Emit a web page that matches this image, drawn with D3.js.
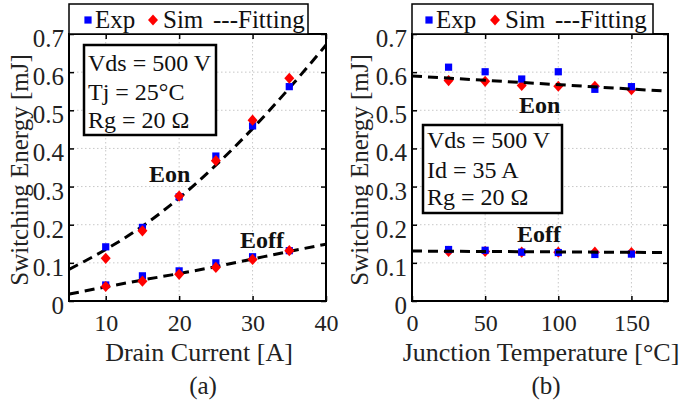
<!DOCTYPE html>
<html>
<head>
<meta charset="utf-8">
<script src="https://cdn.jsdelivr.net/npm/d3@7"></script>
<style>
  html, body { margin: 0; padding: 0; background: #fff; }
  svg text { font-family: "Liberation Serif", "Times New Roman", Times, serif; }
</style>
</head>
<body>
<svg id="chart" width="682" height="401"></svg>
<script>
// ---- Panel (a): switching energy vs drain current ----
const currentA = [10, 15, 20, 25, 30, 35];
const eonExpA  = [0.142, 0.193, 0.273, 0.380, 0.459, 0.562];
const eonSimA  = [0.112, 0.184, 0.275, 0.368, 0.474, 0.584];
const eoffExpA = [0.042, 0.066, 0.079, 0.100, 0.116, 0.132];
const eoffSimA = [0.038, 0.052, 0.070, 0.088, 0.109, 0.132];
const fitXA    = [5, 10, 15, 20, 25, 30, 35, 40];
const eonFitA  = [0.083, 0.135, 0.196, 0.270, 0.356, 0.452, 0.558, 0.671];
const eoffFitA = [0.018, 0.037, 0.055, 0.072, 0.090, 0.110, 0.130, 0.149];

// ---- Panel (b): switching energy vs junction temperature ----
const tempB    = [25, 50, 75, 100, 125, 150];
const eonExpB  = [0.613, 0.601, 0.582, 0.601, 0.555, 0.562];
const eonSimB  = [0.578, 0.576, 0.565, 0.563, 0.563, 0.554];
const eoffExpB = [0.135, 0.133, 0.128, 0.127, 0.122, 0.123];
const eoffSimB = [0.130, 0.130, 0.128, 0.128, 0.128, 0.127];
const fitXB    = [0, 175];
const eonFitB  = [0.590, 0.550];
const eoffFitB = [0.131, 0.127];

const yTicks  = [0, 0.1, 0.2, 0.3, 0.4, 0.5, 0.6, 0.7];
const xTicksA = [10, 20, 30, 40];
const xTicksB = [0, 50, 100, 150];

const SERIF = "'Liberation Serif', 'Times New Roman', Times, serif";
const svg = d3.select("#chart");

// square marker, and a diamond made from a rotated, slightly stretched square
const sq = d3.symbol().type(d3.symbolSquare).size(52);
const dm = d3.symbol().type(d3.symbolSquare).size(50);
const dmTransform = (px, py) => `translate(${px},${py}) scale(1,1.12) rotate(45)`;

function panel(cfg) {
  const x = d3.scaleLinear().domain(cfg.xDomain).range([cfg.left, cfg.right]);
  const y = d3.scaleLinear().domain([0, 0.7]).range([cfg.bottom, cfg.top]);
  const g = svg.append("g");

  // dotted grid
  g.append("g").selectAll("line").data(cfg.xTicks.filter(v => v > cfg.xDomain[0] && v < cfg.xDomain[1]))
    .join("line")
    .attr("x1", d => x(d)).attr("x2", d => x(d))
    .attr("y1", cfg.top).attr("y2", cfg.bottom)
    .attr("stroke", "#c8c8c8").attr("stroke-width", 1).attr("stroke-dasharray", "1.5,2.5");
  g.append("g").selectAll("line").data(yTicks.slice(1, -1))
    .join("line")
    .attr("x1", cfg.left).attr("x2", cfg.right)
    .attr("y1", d => y(d)).attr("y2", d => y(d))
    .attr("stroke", "#c8c8c8").attr("stroke-width", 1).attr("stroke-dasharray", "1.5,2.5");

  // axes with inward ticks, mirrored on all four sides
  const axL = d3.axisLeft(y).tickValues(yTicks).tickSizeInner(-5).tickSizeOuter(0).tickPadding(5)
    .tickFormat(d => d === 0 ? "0" : d3.format(".1f")(d));
  const axR = d3.axisRight(y).tickValues(yTicks).tickSizeInner(-5).tickSizeOuter(0).tickFormat("");
  const axB = d3.axisBottom(x).tickValues(cfg.xTicks).tickSizeInner(-5).tickSizeOuter(0).tickPadding(13)
    .tickFormat(d3.format("d"));
  const axT = d3.axisTop(x).tickValues(cfg.xTicks).tickSizeInner(-5).tickSizeOuter(0).tickFormat("");

  const styleAxis = sel => {
    sel.attr("font-family", SERIF);
    sel.select(".domain").remove();
    sel.selectAll(".tick line").attr("stroke", "#000").attr("stroke-width", 1.5);
    sel.selectAll(".tick text").attr("fill", "#222").style("font-size", "24px");
  };
  g.append("g").attr("transform", `translate(${cfg.left},0)`).call(axL).call(styleAxis)
    .selectAll(".tick text").attr("dy", "0.5em").style("font-size", "25px");
  g.append("g").attr("transform", `translate(${cfg.right},0)`).call(axR).call(styleAxis);
  g.append("g").attr("transform", `translate(0,${cfg.bottom})`).call(axB).call(styleAxis);
  g.append("g").attr("transform", `translate(0,${cfg.top})`).call(axT).call(styleAxis);

  const clipId = "clip-" + cfg.id;
  svg.append("clipPath").attr("id", clipId).append("rect")
    .attr("x", cfg.left).attr("y", cfg.top)
    .attr("width", cfg.right - cfg.left).attr("height", cfg.bottom - cfg.top);

  const line = d3.line().x(d => x(d[0])).y(d => y(d[1])).curve(d3.curveMonotoneX);
  const drawFits = () => {
    cfg.fits.forEach(f => {
      g.append("path").datum(d3.zip(cfg.fitX, f))
        .attr("d", line).attr("fill", "none").attr("stroke", "#000")
        .attr("stroke-width", 3).attr("stroke-dasharray", "10,6")
        .attr("clip-path", `url(#${clipId})`);
    });
  };
  const drawExp = () => cfg.exp.forEach(s => {
    g.append("g").selectAll("path").data(d3.zip(cfg.xs, s)).join("path")
      .attr("d", sq).attr("fill", "#0000ff")
      .attr("transform", d => `translate(${x(d[0])},${y(d[1])})`);
  });
  const drawSim = () => cfg.sim.forEach(s => {
    g.append("g").selectAll("path").data(d3.zip(cfg.xs, s)).join("path")
      .attr("d", dm).attr("fill", "#ff0000")
      .attr("transform", d => dmTransform(x(d[0]), y(d[1])));
  });
  cfg.order.forEach(k => ({fit: drawFits, exp: drawExp, sim: drawSim})[k]());

  // frame
  g.append("rect").attr("x", cfg.left).attr("y", cfg.top)
    .attr("width", cfg.right - cfg.left).attr("height", cfg.bottom - cfg.top)
    .attr("fill", "none").attr("stroke", "#000").attr("stroke-width", 2);

  // curve labels
  cfg.labels.forEach(l => {
    g.append("text").attr("x", l.x).attr("y", l.y).text(l.t)
      .style("font-size", "24px").style("font-weight", "bold").attr("fill", "#111");
  });

  // condition box
  const b = cfg.box;
  g.append("rect").attr("x", b.x).attr("y", b.y).attr("width", b.w).attr("height", b.h)
    .attr("fill", "#fff").attr("stroke", "#000").attr("stroke-width", 2.5);
  b.lines.forEach((t, i) => {
    g.append("text").attr("x", b.x + 4).attr("y", b.base[i]).text(t)
      .style("font-size", "24px").attr("fill", "#111");
  });

  // legend
  const L = cfg.legend;
  g.append("rect").attr("x", cfg.left).attr("y", 4).attr("width", L.w).attr("height", cfg.top - 4)
    .attr("fill", "#fff").attr("stroke", "#000").attr("stroke-width", 1.5);
  g.append("path").attr("d", sq).attr("fill", "#0000ff").attr("transform", `translate(${L.sq},20)`);
  g.append("text").attr("x", L.sq + 7).attr("y", 28).text("Exp").style("font-size", "25px").attr("fill", "#111");
  g.append("path").attr("d", dm).attr("fill", "#ff0000").attr("transform", dmTransform(L.dm, 20));
  g.append("text").attr("x", L.dm + 10).attr("y", 28).text("Sim").style("font-size", "25px").attr("fill", "#111");
  g.append("text").attr("x", L.fit).attr("y", 28).text("---Fitting").style("font-size", "25px").attr("fill", "#111");

  // axis titles and panel tag
  g.append("text").attr("transform", `translate(${cfg.yTitleX},${cfg.yTitleY}) rotate(-90)`)
    .attr("text-anchor", "middle").text("Switching Energy [mJ]")
    .style("font-size", "25px").attr("fill", "#222");
  g.append("text").attr("x", cfg.xTitleX).attr("y", 361).attr("text-anchor", "middle")
    .text(cfg.xTitle).style("font-size", "26px").attr("fill", "#222");
  g.append("text").attr("x", cfg.tagX).attr("y", 394).attr("text-anchor", "middle")
    .text(cfg.tag).style("font-size", "25px").attr("fill", "#222");
}

panel({
  id: "a", left: 69, right: 326, top: 34, bottom: 301,
  xDomain: [5, 40], xTicks: xTicksA, xs: currentA,
  exp: [eonExpA, eoffExpA], sim: [eonSimA, eoffSimA],
  fitX: fitXA, fits: [eonFitA, eoffFitA],
  order: ["fit", "exp", "sim"],
  labels: [{x: 149, y: 182, t: "Eon"}, {x: 240, y: 248, t: "Eoff"}],
  box: {x: 84, y: 45, w: 132, h: 90, lines: ["Vds = 500 V", "Tj = 25°C", "Rg = 20 Ω"], base: [71, 100, 128]},
  legend: {w: 239, sq: 88, dm: 153, fit: 213},
  yTitleX: 28, yTitleY: 170, xTitleX: 199, tagX: 203,
  xTitle: "Drain Current [A]", tag: "(a)"
});

panel({
  id: "b", left: 412, right: 668, top: 34, bottom: 301,
  xDomain: [0, 175], xTicks: xTicksB, xs: tempB,
  exp: [eonExpB, eoffExpB], sim: [eonSimB, eoffSimB],
  fitX: fitXB, fits: [eonFitB, eoffFitB],
  order: ["sim", "exp", "fit"],
  labels: [{x: 519, y: 113, t: "Eon"}, {x: 517, y: 242, t: "Eoff"}],
  box: {x: 423, y: 125, w: 139, h: 88, lines: ["Vds = 500 V", "Id = 35 A", "Rg = 20 Ω"], base: [148, 178, 205]},
  legend: {w: 241, sq: 429, dm: 495, fit: 555},
  yTitleX: 368, yTitleY: 170, xTitleX: 541, tagX: 546,
  xTitle: "Junction Temperature [°C]", tag: "(b)"
});
</script>
</body>
</html>
